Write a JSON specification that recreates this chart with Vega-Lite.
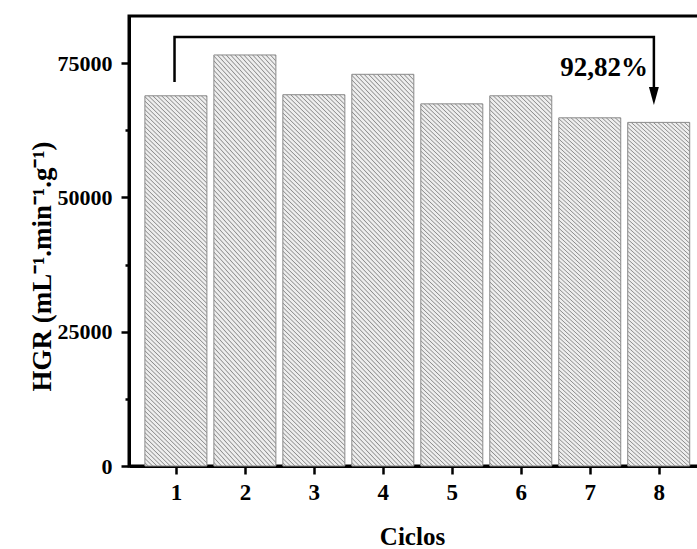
{
  "$schema": "https://vega.github.io/schema/vega-lite/v6.json",
  "autosize": "none",
  "width": 578,
  "height": 450,
  "padding": {"left": 129, "top": 16, "right": 0, "bottom": 83},
  "background": "white",
  "config": {"view": {"stroke": "black", "strokeWidth": 3}, "font": "Liberation Serif"},
  "datasets": {
    "bars": [
      {"ciclo": 1, "hgr": 68900},
      {"ciclo": 2, "hgr": 76500},
      {"ciclo": 3, "hgr": 69100},
      {"ciclo": 4, "hgr": 72900},
      {"ciclo": 5, "hgr": 67400},
      {"ciclo": 6, "hgr": 68900},
      {"ciclo": 7, "hgr": 64800},
      {"ciclo": 8, "hgr": 63950}
    ],
    "bracket": [
      {"x": 0.98, "y": 71470, "o": 1},
      {"x": 0.98, "y": 79850, "o": 2},
      {"x": 7.93, "y": 79850, "o": 3},
      {"x": 7.93, "y": 70540, "o": 4}
    ],
    "arrow": [{"x": 7.93, "y": 68865}],
    "label": [{"x": 7.93, "y": 72590, "text": "92,82%"}]
  },
  "layer": [
    {
      "data": {"name": "bars"},
      "mark": {
        "type": "bar",
        "size": 62,
        "stroke": "#8a8a8a",
        "strokeWidth": 1,
        "fill": {
          "gradient": "linear",
          "x1": 0, "y1": 1, "x2": 0.185, "y2": -0.133,
          "stops": [
{"offset":0,"color":"#eee"},{"offset":0.005,"color":"#eee"},{"offset":0.0075,"color":"#8c8c8c"},
{"offset":0.01,"color":"#eee"},{"offset":0.015,"color":"#eee"},{"offset":0.0175,"color":"#8c8c8c"},
{"offset":0.02,"color":"#eee"},{"offset":0.025,"color":"#eee"},{"offset":0.0275,"color":"#8c8c8c"},
{"offset":0.03,"color":"#eee"},{"offset":0.035,"color":"#eee"},{"offset":0.0375,"color":"#8c8c8c"},
{"offset":0.04,"color":"#eee"},{"offset":0.045,"color":"#eee"},{"offset":0.0475,"color":"#8c8c8c"},
{"offset":0.05,"color":"#eee"},{"offset":0.055,"color":"#eee"},{"offset":0.0575,"color":"#8c8c8c"},
{"offset":0.06,"color":"#eee"},{"offset":0.065,"color":"#eee"},{"offset":0.0675,"color":"#8c8c8c"},
{"offset":0.07,"color":"#eee"},{"offset":0.075,"color":"#eee"},{"offset":0.0775,"color":"#8c8c8c"},
{"offset":0.08,"color":"#eee"},{"offset":0.085,"color":"#eee"},{"offset":0.0875,"color":"#8c8c8c"},
{"offset":0.09,"color":"#eee"},{"offset":0.095,"color":"#eee"},{"offset":0.0975,"color":"#8c8c8c"},
{"offset":0.10,"color":"#eee"},{"offset":0.105,"color":"#eee"},{"offset":0.1075,"color":"#8c8c8c"},
{"offset":0.11,"color":"#eee"},{"offset":0.115,"color":"#eee"},{"offset":0.1175,"color":"#8c8c8c"},
{"offset":0.12,"color":"#eee"},{"offset":0.125,"color":"#eee"},{"offset":0.1275,"color":"#8c8c8c"},
{"offset":0.13,"color":"#eee"},{"offset":0.135,"color":"#eee"},{"offset":0.1375,"color":"#8c8c8c"},
{"offset":0.14,"color":"#eee"},{"offset":0.145,"color":"#eee"},{"offset":0.1475,"color":"#8c8c8c"},
{"offset":0.15,"color":"#eee"},{"offset":0.155,"color":"#eee"},{"offset":0.1575,"color":"#8c8c8c"},
{"offset":0.16,"color":"#eee"},{"offset":0.165,"color":"#eee"},{"offset":0.1675,"color":"#8c8c8c"},
{"offset":0.17,"color":"#eee"},{"offset":0.175,"color":"#eee"},{"offset":0.1775,"color":"#8c8c8c"},
{"offset":0.18,"color":"#eee"},{"offset":0.185,"color":"#eee"},{"offset":0.1875,"color":"#8c8c8c"},
{"offset":0.19,"color":"#eee"},{"offset":0.195,"color":"#eee"},{"offset":0.1975,"color":"#8c8c8c"},
{"offset":0.20,"color":"#eee"},{"offset":0.205,"color":"#eee"},{"offset":0.2075,"color":"#8c8c8c"},
{"offset":0.21,"color":"#eee"},{"offset":0.215,"color":"#eee"},{"offset":0.2175,"color":"#8c8c8c"},
{"offset":0.22,"color":"#eee"},{"offset":0.225,"color":"#eee"},{"offset":0.2275,"color":"#8c8c8c"},
{"offset":0.23,"color":"#eee"},{"offset":0.235,"color":"#eee"},{"offset":0.2375,"color":"#8c8c8c"},
{"offset":0.24,"color":"#eee"},{"offset":0.245,"color":"#eee"},{"offset":0.2475,"color":"#8c8c8c"},
{"offset":0.25,"color":"#eee"},{"offset":0.255,"color":"#eee"},{"offset":0.2575,"color":"#8c8c8c"},
{"offset":0.26,"color":"#eee"},{"offset":0.265,"color":"#eee"},{"offset":0.2675,"color":"#8c8c8c"},
{"offset":0.27,"color":"#eee"},{"offset":0.275,"color":"#eee"},{"offset":0.2775,"color":"#8c8c8c"},
{"offset":0.28,"color":"#eee"},{"offset":0.285,"color":"#eee"},{"offset":0.2875,"color":"#8c8c8c"},
{"offset":0.29,"color":"#eee"},{"offset":0.295,"color":"#eee"},{"offset":0.2975,"color":"#8c8c8c"},
{"offset":0.30,"color":"#eee"},{"offset":0.305,"color":"#eee"},{"offset":0.3075,"color":"#8c8c8c"},
{"offset":0.31,"color":"#eee"},{"offset":0.315,"color":"#eee"},{"offset":0.3175,"color":"#8c8c8c"},
{"offset":0.32,"color":"#eee"},{"offset":0.325,"color":"#eee"},{"offset":0.3275,"color":"#8c8c8c"},
{"offset":0.33,"color":"#eee"},{"offset":0.335,"color":"#eee"},{"offset":0.3375,"color":"#8c8c8c"},
{"offset":0.34,"color":"#eee"},{"offset":0.345,"color":"#eee"},{"offset":0.3475,"color":"#8c8c8c"},
{"offset":0.35,"color":"#eee"},{"offset":0.355,"color":"#eee"},{"offset":0.3575,"color":"#8c8c8c"},
{"offset":0.36,"color":"#eee"},{"offset":0.365,"color":"#eee"},{"offset":0.3675,"color":"#8c8c8c"},
{"offset":0.37,"color":"#eee"},{"offset":0.375,"color":"#eee"},{"offset":0.3775,"color":"#8c8c8c"},
{"offset":0.38,"color":"#eee"},{"offset":0.385,"color":"#eee"},{"offset":0.3875,"color":"#8c8c8c"},
{"offset":0.39,"color":"#eee"},{"offset":0.395,"color":"#eee"},{"offset":0.3975,"color":"#8c8c8c"},
{"offset":0.40,"color":"#eee"},{"offset":0.405,"color":"#eee"},{"offset":0.4075,"color":"#8c8c8c"},
{"offset":0.41,"color":"#eee"},{"offset":0.415,"color":"#eee"},{"offset":0.4175,"color":"#8c8c8c"},
{"offset":0.42,"color":"#eee"},{"offset":0.425,"color":"#eee"},{"offset":0.4275,"color":"#8c8c8c"},
{"offset":0.43,"color":"#eee"},{"offset":0.435,"color":"#eee"},{"offset":0.4375,"color":"#8c8c8c"},
{"offset":0.44,"color":"#eee"},{"offset":0.445,"color":"#eee"},{"offset":0.4475,"color":"#8c8c8c"},
{"offset":0.45,"color":"#eee"},{"offset":0.455,"color":"#eee"},{"offset":0.4575,"color":"#8c8c8c"},
{"offset":0.46,"color":"#eee"},{"offset":0.465,"color":"#eee"},{"offset":0.4675,"color":"#8c8c8c"},
{"offset":0.47,"color":"#eee"},{"offset":0.475,"color":"#eee"},{"offset":0.4775,"color":"#8c8c8c"},
{"offset":0.48,"color":"#eee"},{"offset":0.485,"color":"#eee"},{"offset":0.4875,"color":"#8c8c8c"},
{"offset":0.49,"color":"#eee"},{"offset":0.495,"color":"#eee"},{"offset":0.4975,"color":"#8c8c8c"},
{"offset":0.50,"color":"#eee"},{"offset":0.505,"color":"#eee"},{"offset":0.5075,"color":"#8c8c8c"},
{"offset":0.51,"color":"#eee"},{"offset":0.515,"color":"#eee"},{"offset":0.5175,"color":"#8c8c8c"},
{"offset":0.52,"color":"#eee"},{"offset":0.525,"color":"#eee"},{"offset":0.5275,"color":"#8c8c8c"},
{"offset":0.53,"color":"#eee"},{"offset":0.535,"color":"#eee"},{"offset":0.5375,"color":"#8c8c8c"},
{"offset":0.54,"color":"#eee"},{"offset":0.545,"color":"#eee"},{"offset":0.5475,"color":"#8c8c8c"},
{"offset":0.55,"color":"#eee"},{"offset":0.555,"color":"#eee"},{"offset":0.5575,"color":"#8c8c8c"},
{"offset":0.56,"color":"#eee"},{"offset":0.565,"color":"#eee"},{"offset":0.5675,"color":"#8c8c8c"},
{"offset":0.57,"color":"#eee"},{"offset":0.575,"color":"#eee"},{"offset":0.5775,"color":"#8c8c8c"},
{"offset":0.58,"color":"#eee"},{"offset":0.585,"color":"#eee"},{"offset":0.5875,"color":"#8c8c8c"},
{"offset":0.59,"color":"#eee"},{"offset":0.595,"color":"#eee"},{"offset":0.5975,"color":"#8c8c8c"},
{"offset":0.60,"color":"#eee"},{"offset":0.605,"color":"#eee"},{"offset":0.6075,"color":"#8c8c8c"},
{"offset":0.61,"color":"#eee"},{"offset":0.615,"color":"#eee"},{"offset":0.6175,"color":"#8c8c8c"},
{"offset":0.62,"color":"#eee"},{"offset":0.625,"color":"#eee"},{"offset":0.6275,"color":"#8c8c8c"},
{"offset":0.63,"color":"#eee"},{"offset":0.635,"color":"#eee"},{"offset":0.6375,"color":"#8c8c8c"},
{"offset":0.64,"color":"#eee"},{"offset":0.645,"color":"#eee"},{"offset":0.6475,"color":"#8c8c8c"},
{"offset":0.65,"color":"#eee"},{"offset":0.655,"color":"#eee"},{"offset":0.6575,"color":"#8c8c8c"},
{"offset":0.66,"color":"#eee"},{"offset":0.665,"color":"#eee"},{"offset":0.6675,"color":"#8c8c8c"},
{"offset":0.67,"color":"#eee"},{"offset":0.675,"color":"#eee"},{"offset":0.6775,"color":"#8c8c8c"},
{"offset":0.68,"color":"#eee"},{"offset":0.685,"color":"#eee"},{"offset":0.6875,"color":"#8c8c8c"},
{"offset":0.69,"color":"#eee"},{"offset":0.695,"color":"#eee"},{"offset":0.6975,"color":"#8c8c8c"},
{"offset":0.70,"color":"#eee"},{"offset":0.705,"color":"#eee"},{"offset":0.7075,"color":"#8c8c8c"},
{"offset":0.71,"color":"#eee"},{"offset":0.715,"color":"#eee"},{"offset":0.7175,"color":"#8c8c8c"},
{"offset":0.72,"color":"#eee"},{"offset":0.725,"color":"#eee"},{"offset":0.7275,"color":"#8c8c8c"},
{"offset":0.73,"color":"#eee"},{"offset":0.735,"color":"#eee"},{"offset":0.7375,"color":"#8c8c8c"},
{"offset":0.74,"color":"#eee"},{"offset":0.745,"color":"#eee"},{"offset":0.7475,"color":"#8c8c8c"},
{"offset":0.75,"color":"#eee"},{"offset":0.755,"color":"#eee"},{"offset":0.7575,"color":"#8c8c8c"},
{"offset":0.76,"color":"#eee"},{"offset":0.765,"color":"#eee"},{"offset":0.7675,"color":"#8c8c8c"},
{"offset":0.77,"color":"#eee"},{"offset":0.775,"color":"#eee"},{"offset":0.7775,"color":"#8c8c8c"},
{"offset":0.78,"color":"#eee"},{"offset":0.785,"color":"#eee"},{"offset":0.7875,"color":"#8c8c8c"},
{"offset":0.79,"color":"#eee"},{"offset":0.795,"color":"#eee"},{"offset":0.7975,"color":"#8c8c8c"},
{"offset":0.80,"color":"#eee"},{"offset":0.805,"color":"#eee"},{"offset":0.8075,"color":"#8c8c8c"},
{"offset":0.81,"color":"#eee"},{"offset":0.815,"color":"#eee"},{"offset":0.8175,"color":"#8c8c8c"},
{"offset":0.82,"color":"#eee"},{"offset":0.825,"color":"#eee"},{"offset":0.8275,"color":"#8c8c8c"},
{"offset":0.83,"color":"#eee"},{"offset":0.835,"color":"#eee"},{"offset":0.8375,"color":"#8c8c8c"},
{"offset":0.84,"color":"#eee"},{"offset":0.845,"color":"#eee"},{"offset":0.8475,"color":"#8c8c8c"},
{"offset":0.85,"color":"#eee"},{"offset":0.855,"color":"#eee"},{"offset":0.8575,"color":"#8c8c8c"},
{"offset":0.86,"color":"#eee"},{"offset":0.865,"color":"#eee"},{"offset":0.8675,"color":"#8c8c8c"},
{"offset":0.87,"color":"#eee"},{"offset":0.875,"color":"#eee"},{"offset":0.8775,"color":"#8c8c8c"},
{"offset":0.88,"color":"#eee"},{"offset":0.885,"color":"#eee"},{"offset":0.8875,"color":"#8c8c8c"},
{"offset":0.89,"color":"#eee"},{"offset":0.895,"color":"#eee"},{"offset":0.8975,"color":"#8c8c8c"},
{"offset":0.90,"color":"#eee"},{"offset":0.905,"color":"#eee"},{"offset":0.9075,"color":"#8c8c8c"},
{"offset":0.91,"color":"#eee"},{"offset":0.915,"color":"#eee"},{"offset":0.9175,"color":"#8c8c8c"},
{"offset":0.92,"color":"#eee"},{"offset":0.925,"color":"#eee"},{"offset":0.9275,"color":"#8c8c8c"},
{"offset":0.93,"color":"#eee"},{"offset":0.935,"color":"#eee"},{"offset":0.9375,"color":"#8c8c8c"},
{"offset":0.94,"color":"#eee"},{"offset":0.945,"color":"#eee"},{"offset":0.9475,"color":"#8c8c8c"},
{"offset":0.95,"color":"#eee"},{"offset":0.955,"color":"#eee"},{"offset":0.9575,"color":"#8c8c8c"},
{"offset":0.96,"color":"#eee"},{"offset":0.965,"color":"#eee"},{"offset":0.9675,"color":"#8c8c8c"},
{"offset":0.97,"color":"#eee"},{"offset":0.975,"color":"#eee"},{"offset":0.9775,"color":"#8c8c8c"},
{"offset":0.98,"color":"#eee"},{"offset":0.985,"color":"#eee"},{"offset":0.9875,"color":"#8c8c8c"},
{"offset":0.99,"color":"#eee"},{"offset":0.995,"color":"#eee"},{"offset":0.9975,"color":"#8c8c8c"},
{"offset":1,"color":"#eee"}
          ]
        }
      },
      "encoding": {
        "x": {
          "field": "ciclo",
          "type": "quantitative",
          "scale": {"domain": [0.32, 8.7], "nice": false, "zero": false, "padding": 0},
          "axis": {
            "orient": "bottom",
            "values": [1, 2, 3, 4, 5, 6, 7, 8],
            "format": "d",
            "grid": false,
            "domain": true,
            "ticks": true,
            "domainColor": "black",
            "domainWidth": 3,
            "tickColor": "black",
            "tickSize": 8,
            "tickWidth": 2.5,
            "labelFont": "Liberation Serif",
            "labelFontSize": 23,
            "labelFontWeight": "bold",
            "labelColor": "black",
            "labelPadding": 7,
            "labelFlush": false,
            "title": "Ciclos",
            "titleFont": "Liberation Serif",
            "titleFontSize": 25,
            "titleFontWeight": "bold",
            "titleColor": "black",
            "titleX": 283,
            "titleY": 78,
            "titleBaseline": "alphabetic",
            "titleAlign": "center"
          }
        },
        "y": {
          "field": "hgr",
          "type": "quantitative",
          "scale": {"domain": [0, 83750], "nice": false},
          "axis": {
            "orient": "left",
            "values": [0, 12500, 25000, 37500, 50000, 62500, 75000],
            "format": "d",
            "labelExpr": "datum.value % 25000 === 0 ? datum.label : ''",
            "grid": false,
            "domain": true,
            "ticks": true,
            "domainColor": "black",
            "domainWidth": 3,
            "tickColor": "black",
            "tickSize": 8,
            "tickDash": {"condition": {"test": "datum.value % 25000 !== 0", "value": [4, 20]}, "value": [20, 0]},
            "tickWidth": 2.5,
            "labelFont": "Liberation Serif",
            "labelFontSize": 22,
            "labelFontWeight": "bold",
            "labelColor": "black",
            "labelPadding": 9,
            "labelFlush": false,
            "title": "HGR (mL⁻¹.min⁻¹.g⁻¹)",
            "titleFont": "Liberation Serif",
            "titleFontSize": 27,
            "titleFontWeight": "bold",
            "titleColor": "black",
            "titleX": -79,
            "titleY": 250,
            "titleAngle": -90,
            "titleAlign": "center",
            "titleBaseline": "alphabetic"
          }
        }
      }
    },
    {
      "data": {"name": "bracket"},
      "mark": {"type": "line", "color": "black", "strokeWidth": 2.5, "strokeJoin": "miter", "strokeCap": "butt"},
      "encoding": {
        "x": {"field": "x", "type": "quantitative"},
        "y": {"field": "y", "type": "quantitative"},
        "order": {"field": "o"}
      }
    },
    {
      "data": {"name": "arrow"},
      "mark": {"type": "point", "shape": "M-0.55,-1L0.55,-1L0,1Z", "size": 324, "filled": true, "color": "black", "opacity": 1, "strokeWidth": 0},
      "encoding": {
        "x": {"field": "x", "type": "quantitative"},
        "y": {"field": "y", "type": "quantitative"}
      }
    },
    {
      "data": {"name": "label"},
      "mark": {"type": "text", "font": "Liberation Serif", "fontWeight": "bold", "fontSize": 27, "align": "right", "baseline": "alphabetic", "dx": -6, "color": "black"},
      "encoding": {
        "x": {"field": "x", "type": "quantitative"},
        "y": {"field": "y", "type": "quantitative"},
        "text": {"field": "text"}
      }
    }
  ]
}
